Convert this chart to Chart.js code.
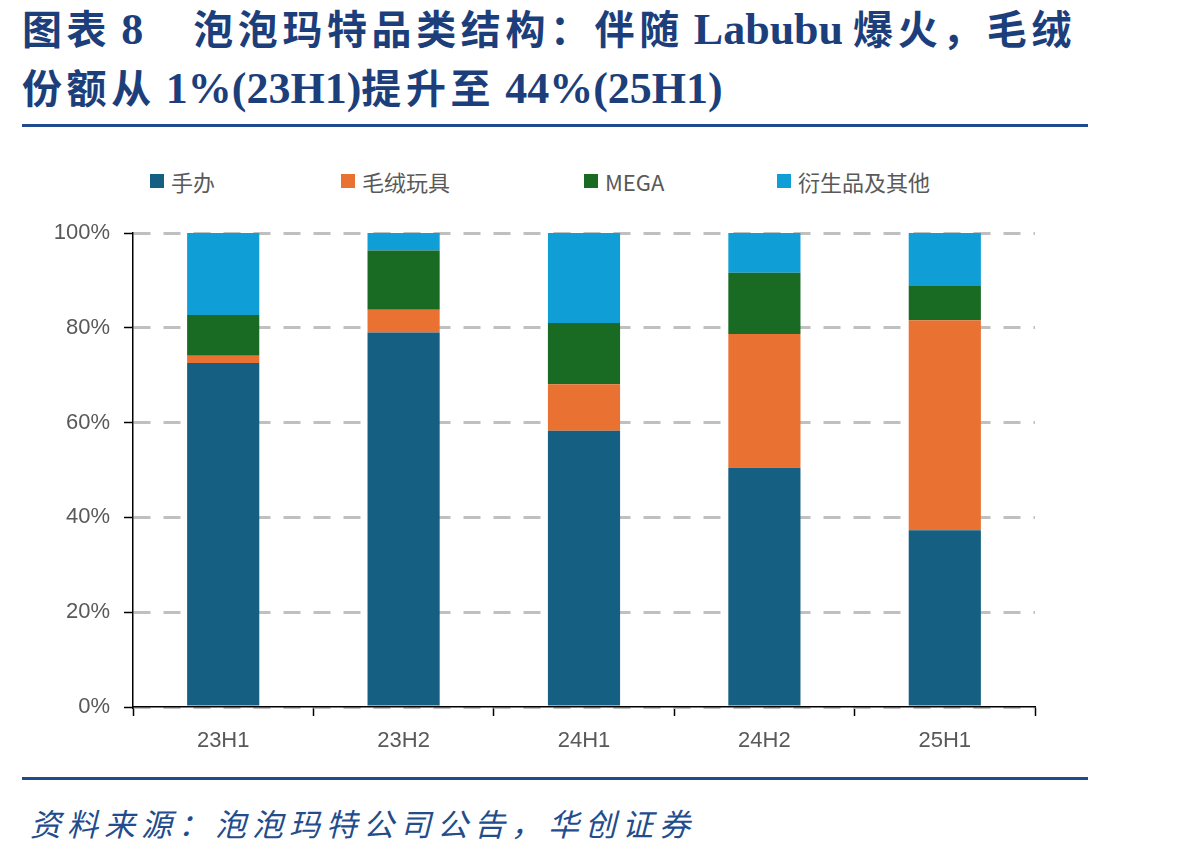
<!DOCTYPE html>
<html>
<head>
<meta charset="utf-8">
<script src="https://cdn.jsdelivr.net/npm/chart.js@4/dist/chart.umd.min.js"></script>
<style>
  html, body { margin: 0; padding: 0; background: #fff; }
  body { width: 1198px; height: 856px; position: relative; overflow: hidden; }
  .title { position: absolute; left: 22px; color: #1c3f7c; font-weight: bold;
           font-family: "Liberation Serif", "Noto Sans CJK SC", serif; font-size: 40px;
           white-space: nowrap; }
  .cjk { font-family: "Noto Sans CJK SC", sans-serif; letter-spacing: 4.6px; }
  .lat { font-family: "Liberation Serif", serif; font-size: 44px; letter-spacing: 0; }
  .rule { position: absolute; left: 22px; width: 1066px; height: 3px; background: #1f4b8e; }
  .source { position: absolute; left: 30px; top: 800px; color: #234c8c; font-style: italic;
            font-family: "Noto Sans CJK SC", sans-serif; font-size: 31px; letter-spacing: 6px; white-space: nowrap; }
  .legend { position: absolute; top: 165px; left: 0; width: 1198px; height: 30px;
            font-family: "Noto Sans CJK SC", "Liberation Sans", sans-serif; font-size: 22px; color: #595959; }
  .legend .item { position: absolute; display: flex; align-items: center; white-space: nowrap; }
  .legend .box { width: 14px; height: 14px; margin-right: 7px; }
  #wrap { position: absolute; left: 0; top: 200px; width: 1198px; height: 570px; }
</style>
</head>
<body>
<div class="title" style="top:-2px;"><span class="cjk">图表</span> <span class="lat">8</span>&nbsp;&nbsp;&nbsp;&nbsp;&nbsp;<span class="cjk">泡泡玛特品类结构：伴随</span> <span class="lat">Labubu</span> <span class="cjk">爆火，毛绒</span></div>
<div class="title" style="top:57px;"><span class="cjk">份额从</span> <span class="lat">1%(23H1)</span><span class="cjk">提升至</span> <span class="lat">44%(25H1)</span></div>
<div class="rule" style="top:124px;"></div>
<div class="legend" id="legend"></div>
<div id="wrap"><canvas id="c"></canvas></div>
<div class="rule" style="top:777px;"></div>
<div class="source">资料来源：泡泡玛特公司公告，华创证券</div>
<script>
const categories = ["23H1", "23H2", "24H1", "24H2", "25H1"];
const seriesNames = ["手办", "毛绒玩具", "MEGA", "衍生品及其他"];
const figures = [72.6, 79.0, 58.3, 50.5, 37.3];
const plush   = [1.5, 4.8, 9.8, 28.2, 44.3];
const mega    = [8.6, 12.5, 12.9, 12.9, 7.2];
const others  = [17.3, 3.7, 19.0, 8.4, 11.2];
const yTicks = [0, 20, 40, 60, 80, 100];
const colors = ["#156082", "#E97132", "#196B24", "#0F9ED5"];
const seriesData = [figures, plush, mega, others];

// HTML legend
const legendX = [150, 341, 584, 777];
const legend = document.getElementById('legend');
seriesNames.forEach((n, i) => {
  const it = document.createElement('div');
  it.className = 'item';
  it.style.left = legendX[i] + 'px';
  it.innerHTML = '<div class="box" style="background:' + colors[i] + '"></div><span>' + n + '</span>';
  legend.appendChild(it);
});

const tickFont = { family: "Liberation Sans, Arial, sans-serif", size: 22 };
new Chart(document.getElementById('c'), {
  type: 'bar',
  data: {
    labels: categories,
    datasets: seriesNames.map((n, i) => ({
      label: n,
      data: seriesData[i],
      backgroundColor: colors[i],
      borderWidth: 0,
      categoryPercentage: 1.0,
      barPercentage: 0.4
    }))
  },
  options: {
    responsive: true,
    maintainAspectRatio: false,
    animation: false,
    layout: { padding: { top: 33, right: 163, left: 0, bottom: 0 } },
    plugins: { legend: { display: false }, tooltip: { enabled: false }, title: { display: false } },
    scales: {
      x: {
        stacked: true,
        afterFit: (s) => { s.height = 63; },
        grid: { drawOnChartArea: false, drawTicks: true, tickLength: 9, tickColor: '#000', tickWidth: 1.5, offset: true },
        border: { display: true, color: '#000', width: 1.5 },
        ticks: { color: '#595959', font: tickFont, padding: 12, maxRotation: 0 }
      },
      y: {
        stacked: true,
        min: 0, max: 100,
        afterFit: (s) => { s.width = 133; },
        afterBuildTicks: (s) => { s.ticks = yTicks.map(v => ({ value: v })); },
        grid: { color: '#c0c0c0', lineWidth: 3, drawTicks: true, tickLength: 9, tickColor: '#000', tickWidth: 1.5, tickBorderDash: [] },
        border: { display: true, color: '#000', width: 1.5, dash: [17, 13] },
        ticks: { color: '#595959', font: tickFont, padding: 14, callback: (v) => v + '%' }
      }
    }
  }
});
</script>
</body>
</html>
